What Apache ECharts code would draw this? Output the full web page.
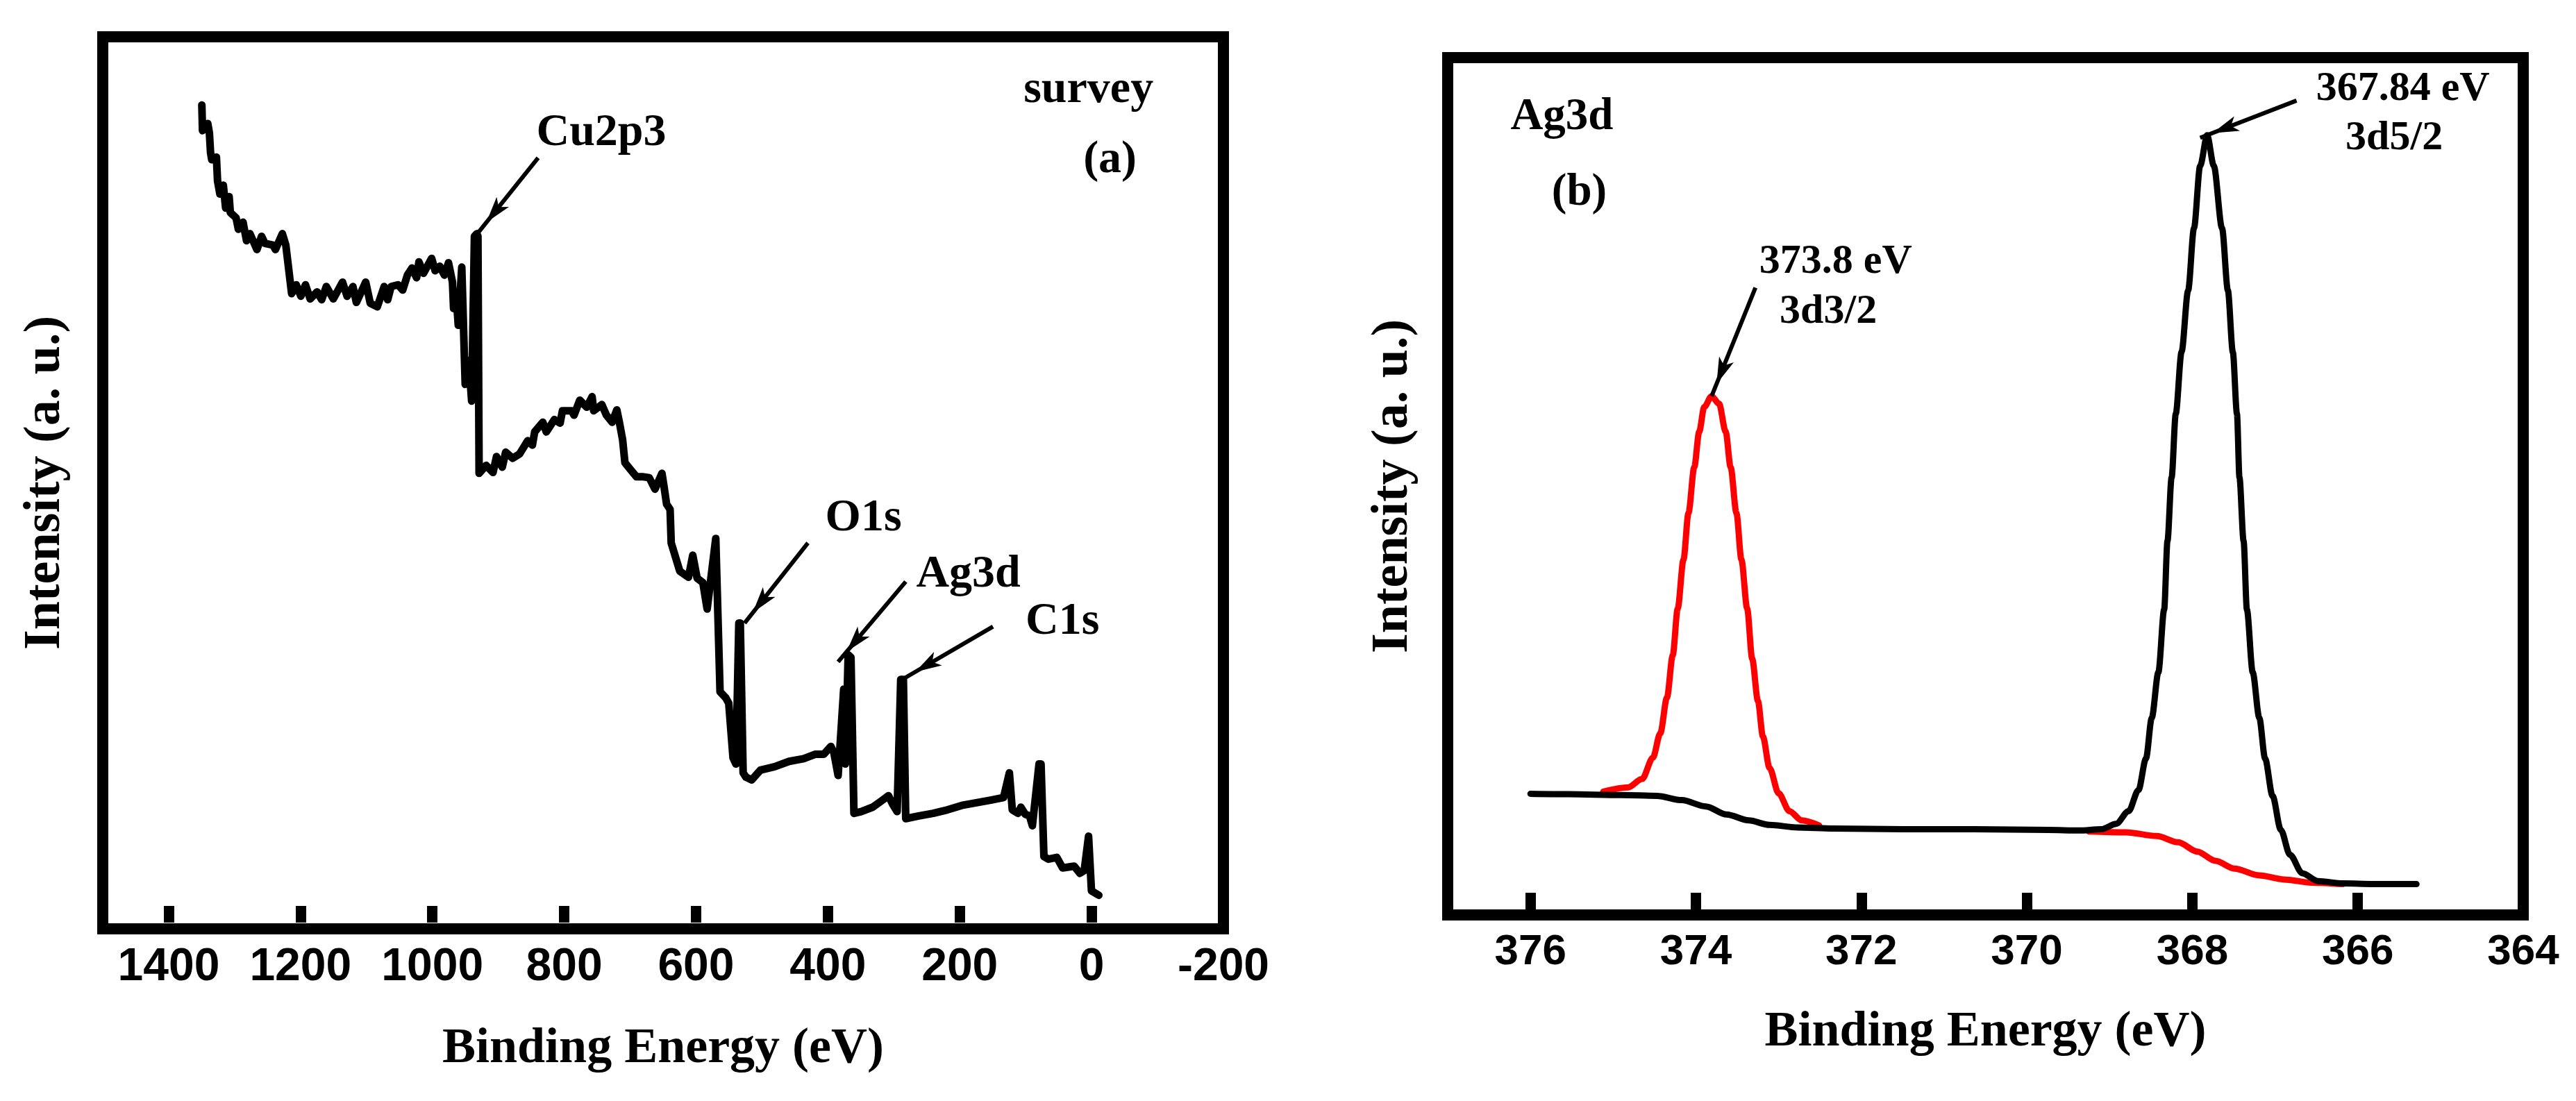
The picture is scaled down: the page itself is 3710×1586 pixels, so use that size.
<!DOCTYPE html>
<html>
<head>
<meta charset="utf-8">
<title>XPS survey and Ag3d</title>
<script src="https://cdn.jsdelivr.net/npm/echarts@6/dist/echarts.min.js"></script>
<style>
html, body { margin: 0; padding: 0; background: #fff; }
#chart { width: 3710px; height: 1586px; }
</style>
</head>
<body>
<div id="chart"></div>
<script>
// (a) survey spectrum, binding energy (eV) / intensity (a.u.)
var surveyBE = [1349.7, 1348.7, 1340.7, 1338.2, 1336.5, 1334.7, 1327.6, 1325.9, 1322.3, 1317.1,
	1313.6, 1308.3, 1306.5, 1297.8, 1294.3, 1287.2, 1281.9, 1276.7, 1266.1, 1259.1,
	1253.9, 1241.6, 1238.1, 1227.6, 1222.3, 1213.5, 1206.5, 1199.5, 1192.5, 1185.4,
	1174.9, 1167.9, 1160.9, 1150.3, 1136.3, 1129.3, 1120.5, 1115.3, 1101.1, 1094.2,
	1083.6, 1073.1, 1067.8, 1062.6, 1052.0, 1045.0, 1037.9, 1031.0, 1023.9, 1020.4,
	1013.4, 1001.1, 995.8, 988.8, 981.8, 975.5, 969.5, 967.8, 964.2, 960.7,
	955.4, 950.2, 944.9, 940.4, 936.2, 932.6, 930.9, 929.1, 918.5, 908.0,
	902.7, 894.0, 888.8, 878.2, 867.7, 855.4, 848.3, 844.8, 832.5, 827.2,
	815.0, 806.2, 802.7, 788.7, 785.1, 776.4, 765.8, 757.7, 755.3, 743.0,
	736.0, 727.2, 720.2, 716.6, 711.4, 707.9, 699.2, 690.3, 679.8, 671.0,
	662.3, 651.7, 648.2, 644.7, 639.4, 637.7, 624.7, 611.5, 605.0, 598.4,
	589.7, 583.2, 570.1, 563.6, 554.8, 550.4, 543.9, 539.5, 535.1, 532.9,
	528.6, 524.2, 515.5, 502.4, 480.6, 458.8, 436.8, 419.5, 406.3, 395.5,
	391.0, 384.5, 376.0, 373.5, 369.2, 365.0, 360.5, 349.5, 332.1, 319.0,
	308.1, 301.6, 295.0, 289.5, 285.5, 281.9, 262.2, 240.4, 218.6, 196.8,
	174.9, 153.1, 133.5, 124.7, 120.3, 111.6, 107.2, 100.7, 94.1, 89.8,
	79.7, 76.7, 72.3, 65.7, 52.7, 43.9, 26.4, 17.7, 11.2, 4.6,
	0.2, -11.0];
var surveyI = [92.8, 89.9, 90.7, 89.6, 87.4, 86.6, 86.9, 84.2, 82.7, 83.7,
	81.1, 82.4, 80.6, 80.0, 78.7, 79.5, 77.4, 78.2, 76.4, 77.9,
	77.1, 76.9, 76.4, 78.2, 76.9, 71.4, 72.4, 71.1, 72.4, 70.8,
	71.6, 70.7, 72.2, 70.8, 72.7, 71.1, 72.2, 70.4, 72.7, 70.3,
	69.9, 72.2, 70.7, 72.2, 72.4, 71.8, 73.5, 74.3, 73.2, 75.0,
	73.7, 75.4, 74.0, 74.5, 73.5, 74.9, 72.7, 69.7, 71.6, 67.8,
	74.4, 61.1, 63.8, 59.2, 77.9, 78.2, 77.9, 51.0, 51.9, 51.1,
	52.9, 51.7, 53.4, 52.7, 53.2, 54.7, 54.2, 55.7, 56.8, 55.7,
	57.1, 56.7, 58.1, 58.1, 57.6, 59.3, 58.5, 59.7, 58.1, 58.8,
	57.6, 56.8, 58.2, 56.9, 54.8, 52.2, 51.4, 50.6, 50.6, 50.5,
	49.2, 51.0, 49.3, 47.5, 46.9, 43.1, 39.9, 39.2, 41.7, 39.1,
	38.6, 35.6, 43.6, 26.2, 25.5, 24.9, 18.7, 18.0, 34.0, 34.0,
	17.0, 16.5, 16.2, 17.3, 17.7, 18.3, 18.6, 19.1, 19.1, 20.0,
	19.3, 16.7, 26.5, 18.0, 30.4, 30.1, 12.4, 12.6, 13.1, 13.8,
	14.4, 13.4, 12.6, 27.6, 27.6, 11.8, 12.1, 12.4, 12.8, 13.3,
	13.6, 13.9, 14.2, 17.0, 12.8, 12.4, 13.1, 12.3, 12.1, 11.0,
	18.0, 18.0, 7.5, 7.2, 7.4, 6.2, 6.4, 5.6, 5.9, 9.8,
	3.6, 3.1];

// (b) Ag3d: black = envelope (background + 3d5/2)
var fitBE = [376.0, 375.54, 374.90, 374.47, 374.17, 373.88, 373.63, 373.36, 373.11, 372.77,
	372.34, 371.49, 370.64, 369.74, 369.37, 369.10, 368.92, 368.77, 368.65, 368.56,
	368.49, 368.41, 368.34, 368.30, 368.25, 368.20, 368.13, 368.05, 367.98, 367.905,
	367.82, 367.74, 367.64, 367.57, 367.51, 367.46, 367.43, 367.38, 367.34, 367.27,
	367.19, 367.12, 367.03, 366.93, 366.82, 366.67, 366.48, 366.18, 365.81, 365.29];
var fitI = [13.65, 13.6, 13.5, 13.4, 12.9, 12.15, 11.2, 10.5, 9.97, 9.67,
	9.55, 9.47, 9.47, 9.39, 9.31, 9.46, 10.1, 11.6, 14.1, 17.8,
	22.6, 28.0, 35.4, 43.5, 51.0, 58.5, 65.8, 73.1, 80.4, 87.8,
	91.4, 87.8, 80.4, 73.1, 65.8, 58.5, 51.0, 43.5, 35.4, 28.0,
	22.6, 17.8, 13.4, 9.39, 6.46, 4.26, 3.34, 3.06, 2.98, 2.98];
// red: 3d3/2 component
var d32BE = [375.12, 374.82, 374.65, 374.52, 374.43, 374.35, 374.28, 374.22, 374.15, 374.09,
	374.02, 373.96, 373.90, 373.81, 373.72, 373.64, 373.58, 373.51, 373.45, 373.38,
	373.32, 373.25, 373.19, 373.11, 373.00, 372.87, 372.72, 372.51];
var d32I = [13.9, 14.4, 15.4, 17.9, 20.8, 25.0, 30.0, 35.5, 41.3, 46.8,
	52.2, 56.4, 59.3, 60.6, 59.7, 56.4, 52.2, 46.8, 41.3, 35.5,
	29.6, 24.6, 20.4, 16.7, 13.7, 11.6, 10.5, 9.9];
// red: background under 3d5/2
var bgBE = [369.25, 368.80, 368.43, 368.17, 367.94, 367.72, 367.49, 367.19, 366.89, 366.56, 366.18];
var bgI = [9.2, 9.1, 8.66, 7.92, 6.82, 5.73, 4.81, 4.01, 3.53, 3.16, 2.98];

// tick labels
var ticksA = [1400, 1200, 1000, 800, 600, 400, 200, 0, -200];
var ticksB = [376, 374, 372, 370, 368, 366, 364];

// annotations [text, BE, intensity] and arrows [fromBE, fromI, toBE, toI]
var notesA = [['survey', 4.7, 94.5], ['(a)', -27.9, 86.5], ['Cu2p3', 743.7, 89.6],
	['O1s', 346.0, 45.9], ['Ag3d', 187.0, 39.5], ['C1s', 44.2, 34.1]];
var arrowsA = [[839.6, 86.8, 930.7, 78.3], [430.3, 43.1, 526.4, 34.0],
	[281.9, 38.7, 384.5, 29.6], [149.6, 33.6, 284.9, 27.7]];
var notesB = [['Ag3d', 375.62, 93.5], ['(b)', 375.41, 84.6]];
var peakNotesB = [['367.84 eV', 365.455, 96.8], ['3d5/2', 365.56, 91.0],
	['373.8 eV', 372.31, 76.4], ['3d3/2', 372.40, 70.5]];
var arrowsB = [[366.74, 95.5, 367.905, 91.1], [373.28, 73.4, 373.81, 60.6]];

function pairs(xs, ys) {
	return xs.map(function (x, i) { return [x, ys[i]]; });
}

function arrowLines(list) {
	return list.map(function (a) {
		return [
			{ coord: [a[0], a[1]], symbol: 'none' },
			{ coord: [a[2], a[3]], symbol: 'arrow', symbolSize: [17, 38], symbolOffset: [0, 19] }
		];
	});
}

function noteSeries(list, idx, size) {
	return {
		type: 'scatter',
		xAxisIndex: idx,
		yAxisIndex: idx,
		symbolSize: 1,
		itemStyle: { color: 'rgba(255,255,255,0)', opacity: 1 },
		silent: true,
		animation: false,
		label: {
			show: true, position: 'inside', formatter: '{b}', color: '#000', opacity: 1,
			fontFamily: 'Liberation Serif', fontWeight: 'bold', fontSize: size
		},
		data: list.map(function (n) { return { name: n[0], value: [n[1], n[2]] }; })
	};
}

function xAxisOf(idx, min, max, ticks, size, gap) {
	return {
		type: 'value',
		gridIndex: idx,
		min: min,
		max: max,
		interval: ticks[0] - ticks[1],
		inverse: true,
		axisLine: { show: false },
		axisTick: { show: true, inside: true, length: 24, lineStyle: { width: 15, color: '#000' } },
		splitLine: { show: false },
		axisLabel: {
			margin: 23, color: '#000', fontFamily: 'Liberation Sans', fontWeight: 'bold', fontSize: size,
			formatter: function (v) { return ticks.indexOf(v) >= 0 ? String(v) : ''; }
		},
		name: 'Binding Energy (eV)',
		nameLocation: 'middle',
		nameGap: gap,
		nameTextStyle: { color: '#000', fontFamily: 'Liberation Serif', fontWeight: 'bold', fontSize: 72 }
	};
}

function yAxisOf(idx, min, max, gap) {
	return {
		type: 'value',
		gridIndex: idx,
		min: min,
		max: max,
		axisLine: { show: false },
		axisTick: { show: false },
		axisLabel: { show: false },
		splitLine: { show: false },
		name: 'Intensity (a. u.)',
		nameLocation: 'middle',
		nameGap: gap,
		nameTextStyle: { color: '#000', fontFamily: 'Liberation Serif', fontWeight: 'bold', fontSize: 74 }
	};
}

var myChart = echarts.init(document.getElementById('chart'));

var option = {
	backgroundColor: '#fff',
	animation: false,
	grid: [
		{ left: 148, top: 53, width: 1614, height: 1285, show: true, borderWidth: 16, borderColor: '#000',
			backgroundColor: 'transparent', containLabel: false, outerBoundsMode: 'none' },
		{ left: 2085, top: 83, width: 1549, height: 1235, show: true, borderWidth: 16, borderColor: '#000',
			backgroundColor: 'transparent', containLabel: false, outerBoundsMode: 'none' }
	],
	xAxis: [
		xAxisOf(0, -200, 1500, ticksA, 66, 137),
		xAxisOf(1, 364, 377, ticksB, 62, 133)
	],
	yAxis: [
		yAxisOf(0, -0.71, 100.55, 45),
		yAxisOf(1, -0.66, 100.57, 41)
	],
	series: [
		{
			name: 'survey',
			type: 'line',
			xAxisIndex: 0,
			yAxisIndex: 0,
			showSymbol: false,
			silent: true,
			lineStyle: { color: '#000', width: 11, join: 'round', cap: 'round' },
			data: pairs(surveyBE, surveyI),
			markLine: {
				silent: true,
				animation: false,
				symbol: ['none', 'arrow'],
				lineStyle: { color: '#000', width: 6, type: 'solid', opacity: 1 },
				itemStyle: { color: '#000' },
				label: { show: false },
				data: arrowLines(arrowsA)
			}
		},
		{
			name: '3d3/2',
			type: 'line',
			xAxisIndex: 1,
			yAxisIndex: 1,
			showSymbol: false,
			silent: true,
			smooth: 0.3,
			smoothMonotone: 'x',
			lineStyle: { color: '#ff0000', width: 9, join: 'round', cap: 'round' },
			data: pairs(d32BE, d32I)
		},
		{
			name: 'background',
			type: 'line',
			xAxisIndex: 1,
			yAxisIndex: 1,
			showSymbol: false,
			silent: true,
			smooth: 0.3,
			smoothMonotone: 'x',
			lineStyle: { color: '#ff0000', width: 9, join: 'round', cap: 'round' },
			data: pairs(bgBE, bgI)
		},
		{
			name: 'envelope',
			type: 'line',
			xAxisIndex: 1,
			yAxisIndex: 1,
			showSymbol: false,
			silent: true,
			smooth: 0.3,
			smoothMonotone: 'x',
			lineStyle: { color: '#000', width: 9, join: 'round', cap: 'round' },
			data: pairs(fitBE, fitI),
			markLine: {
				silent: true,
				animation: false,
				symbol: ['none', 'arrow'],
				lineStyle: { color: '#000', width: 6, type: 'solid', opacity: 1 },
				itemStyle: { color: '#000' },
				label: { show: false },
				data: arrowLines(arrowsB)
			}
		},
		noteSeries(notesA, 0, 66),
		noteSeries(notesB, 1, 65),
		noteSeries(peakNotesB, 1, 60)
	]
};

myChart.setOption(option);
</script>
</body>
</html>
